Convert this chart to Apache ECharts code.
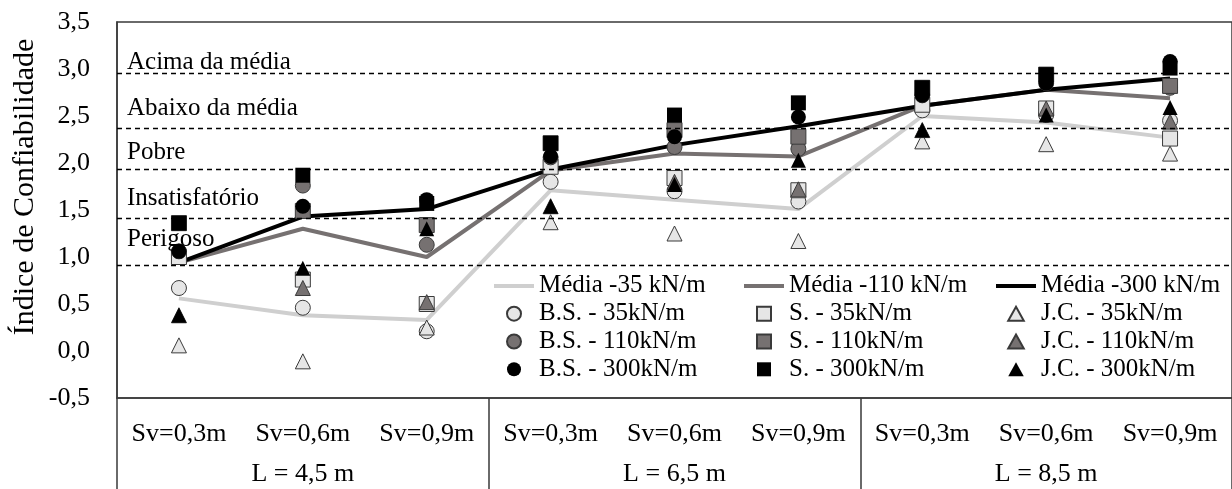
<!DOCTYPE html>
<html><head><meta charset="utf-8">
<script src="https://cdn.jsdelivr.net/npm/echarts@6/dist/echarts.min.js"></script>
<style>html,body{margin:0;padding:0;background:#fff}#c{width:1232px;height:489px}</style>
</head><body><div id="c"></div>
<script>
// ---- data ----
const categories = ['Sv=0,3m','Sv=0,6m','Sv=0,9m','Sv=0,3m','Sv=0,6m','Sv=0,9m','Sv=0,3m','Sv=0,6m','Sv=0,9m'];
const groups = ['L = 4,5 m','L = 6,5 m','L = 8,5 m'];
const yTicks = [-0.5, 0, 0.5, 1, 1.5, 2, 2.5, 3, 3.5];

const mean35  = [0.56, 0.38, 0.33, 1.71, 1.61, 1.51, 2.50, 2.43, 2.27];
const mean110 = [0.94, 1.30, 1.00, 1.92, 2.10, 2.07, 2.61, 2.78, 2.69];
const mean300 = [0.94, 1.43, 1.51, 1.93, 2.19, 2.39, 2.61, 2.78, 2.90];

const bs35  = [0.67, 0.46, 0.21, 1.80, 1.70, 1.59, 2.56, 2.51, 2.45];
const bs110 = [1.06, 1.76, 1.13, 2.06, 2.17, 2.15, 2.72, 2.85, 2.80];
const bs300 = [1.06, 1.54, 1.61, 2.07, 2.28, 2.49, 2.72, 2.85, 3.08];
const s35   = [1.00, 0.76, 0.50, 1.96, 1.84, 1.71, 2.62, 2.58, 2.26];
const s110  = [1.36, 1.49, 1.34, 2.21, 2.35, 2.28, 2.80, 2.94, 2.82];
const s300  = [1.36, 1.87, 1.57, 2.21, 2.51, 2.64, 2.80, 2.94, 3.01];
const jc35  = [0.06, -0.11, 0.25, 1.37, 1.25, 1.17, 2.23, 2.20, 2.10];
const jc110 = [0.38, 0.67, 0.52, 1.54, 1.80, 1.72, 2.35, 2.58, 2.44];
const jc300 = [0.38, 0.88, 1.30, 1.54, 1.77, 2.03, 2.35, 2.51, 2.59];

const thresholdValues = [2.96, 2.37, 1.93, 1.41, 0.91];
const thresholdLabels = ['Acima da média','Abaixo da média','Pobre','Insatisfatório','Perigoso'];

// ---- styling ----
const FONT = '"Liberation Serif", "Times New Roman", serif';
const LIGHT = '#e6e6e6', MID = '#767171', DARK = '#000000', EDGE = '#3a3a3a';
const labelGaps = [-2, 7, 4.5, 8, 13.5];
const ICON_LINE = 'path://M0,0H40V4H0Z';
const ICON_SQUARE = 'path://M0,0H10V10H0Z';
const ICON_TRI = 'path://M5,0L10,9H0Z';

function scat(name, data, symbol, fill, outlined) {
  return {
    name, type: 'scatter', data, symbol, symbolSize: 15,
    itemStyle: { color: fill, borderColor: outlined ? EDGE : fill, borderWidth: outlined ? 1 : 0, opacity: 1 },
    emphasis: { disabled: true }, z: 3
  };
}
function meanLine(name, data, color) {
  return {
    name, type: 'line', data, symbol: 'none', showSymbol: false, smooth: false,
    lineStyle: { width: 4, color }, itemStyle: { color, borderWidth: 0 },
    emphasis: { disabled: true }, z: 2
  };
}

const series = [
  Object.assign(meanLine('Média -35 kN/m', mean35, '#cfcfcf'), {
    markLine: {
      silent: true, symbol: ['none', 'none'], animation: false,
      lineStyle: { type: [5, 4], color: '#000', width: 1.3 },
      label: { show: true, position: 'insideStartTop', fontFamily: FONT, fontSize: 25, color: '#000', lineHeight: 25 },
      data: thresholdValues.map((v, i) => ({
        yAxis: v,
        label: { formatter: thresholdLabels[i], distance: [10, labelGaps[i]] }
      }))
    }
  }),
  meanLine('Média -110 kN/m', mean110, MID),
  meanLine('Média -300 kN/m', mean300, DARK),
  scat('B.S. - 35kN/m', bs35, 'circle', LIGHT, true),
  scat('S. - 35kN/m', s35, 'rect', LIGHT, true),
  scat('J.C. - 35kN/m', jc35, 'triangle', LIGHT, true),
  scat('B.S. - 110kN/m', bs110, 'circle', MID, true),
  scat('S. - 110kN/m', s110, 'rect', MID, true),
  scat('J.C. - 110kN/m', jc110, 'triangle', MID, true),
  scat('B.S. - 300kN/m', bs300, 'circle', DARK, false),
  scat('S. - 300kN/m', s300, 'rect', DARK, false),
  scat('J.C. - 300kN/m', jc300, 'triangle', DARK, false)
];

const legendCommon = {
  orient: 'vertical', top: 272, itemWidth: 40, itemHeight: 14, itemGap: 0, padding: 0,
  selectedMode: false, symbolKeepAspect: true,
  textStyle: { fontFamily: FONT, fontSize: 25, color: '#000', lineHeight: 27.8 }
};
const lineItem = name => ({ name, icon: ICON_LINE });
const sqItem = name => ({ name, icon: ICON_SQUARE });
const triItem = name => ({ name, icon: ICON_TRI });
const cirItem = name => ({ name, icon: 'circle' });

const chart = echarts.init(document.getElementById('c'), null, { renderer: 'canvas' });
chart.setOption({
  animation: false,
  backgroundColor: '#fff',
  grid: { left: 117, right: 0, top: 22, bottom: 91, show: true, borderColor: EDGE, borderWidth: 1.5, backgroundColor: 'transparent' },
  xAxis: [
    {
      type: 'category', data: categories.map((c, i) => String(i)), position: 'bottom', boundaryGap: true,
      axisLine: { show: true, onZero: false, lineStyle: { color: EDGE, width: 1.5 } },
      axisTick: { show: false }, splitLine: { show: false },
      axisLabel: { interval: 0, margin: 23, fontFamily: FONT, fontSize: 26, color: '#000', formatter: (v, i) => categories[i] }
    },
    {
      type: 'category', data: groups, position: 'bottom', boundaryGap: true,
      axisLine: { show: false, onZero: false },
      axisTick: { show: true, interval: 0, length: 91, lineStyle: { color: EDGE, width: 1.5 } },
      splitLine: { show: false },
      axisLabel: { interval: 0, margin: 63, fontFamily: FONT, fontSize: 26, color: '#000' }
    }
  ],
  yAxis: {
    type: 'value', min: yTicks[0], max: yTicks[yTicks.length - 1], interval: 0.5,
    axisLine: { show: true, onZero: false, lineStyle: { color: EDGE, width: 1.5 } },
    axisTick: { show: false }, splitLine: { show: false },
    axisLabel: { margin: 27, padding: [5, 0, 0, 0], fontFamily: FONT, fontSize: 26, color: '#000', formatter: v => v.toFixed(1).replace('.', ',') }
  },
  legend: [
    Object.assign({}, legendCommon, { left: 494, data: [lineItem('Média -35 kN/m'), cirItem('B.S. - 35kN/m'), cirItem('B.S. - 110kN/m'), cirItem('B.S. - 300kN/m')] }),
    Object.assign({}, legendCommon, { left: 744, data: [lineItem('Média -110 kN/m'), sqItem('S. - 35kN/m'), sqItem('S. - 110kN/m'), sqItem('S. - 300kN/m')] }),
    Object.assign({}, legendCommon, { left: 996, data: [lineItem('Média -300 kN/m'), triItem('J.C. - 35kN/m'), triItem('J.C. - 110kN/m'), triItem('J.C. - 300kN/m')] })
  ],
  graphic: [{
    type: 'text', x: 25, y: 187, rotation: Math.PI / 2,
    style: { text: 'Índice de Confiabilidade', font: '30px "Liberation Serif"', fill: '#000', align: 'center', verticalAlign: 'middle' }
  }],
  series
});
</script>
</body></html>
